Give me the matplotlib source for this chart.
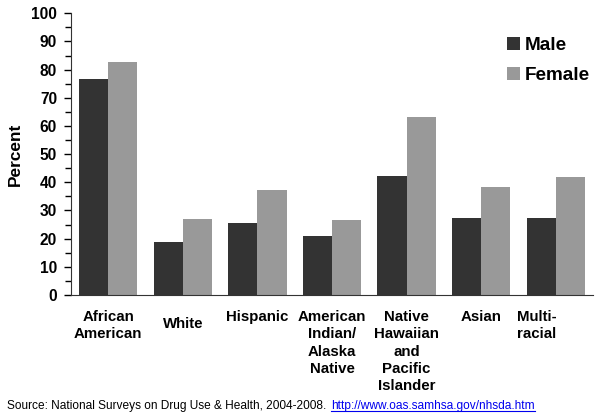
import matplotlib
matplotlib.use("Agg")
import matplotlib.pyplot as plt
import numpy as np
from matplotlib.lines import Line2D

categories = ["African\nAmerican", "White", "Hispanic", "American\nIndian/\nAlaska\nNative",
              "Native\nHawaiian\nand\nPacific\nIslander", "Asian", "Multi-\nracial"]
male = [76.8, 18.8, 25.7, 20.8, 42.4, 27.3, 27.5]
female = [82.6, 26.9, 37.1, 26.7, 63.3, 38.5, 41.8]
series_names = ["Male", "Female"]
yticks = list(range(0, 101, 10))

# label placement tweaks (style only)
label_dx = [0, 0, 0, 0, 0, 0, -0.25]
label_dy_px = [0, 7, 0, 0, 0, 0, 0]

plt.rcParams['font.family'] = ['Liberation Sans', 'DejaVu Sans']

fig = plt.figure(figsize=(6.0, 4.16), dpi=100)
ax = fig.add_axes([71/600, 1-295/416, (593-71)/600, (295-13.3)/416])

x = np.arange(len(categories))
w = 0.39
ax.bar(x - w/2, male, w, color="#333333", label=series_names[0])
ax.bar(x + w/2, female, w, color="#999999", label=series_names[1])

ax.set_xlim(-0.5, len(categories) - 0.5)
ax.set_ylim(0, 100)
ax.set_yticks(yticks)
ax.set_yticklabels([str(t) for t in yticks], fontsize=11.2, fontweight="bold")
ax.set_yticks(np.arange(5, 100, 10), minor=True)
ax.tick_params(axis="y", which="major", length=5, width=1, direction="out", pad=5)
ax.tick_params(axis="y", which="minor", length=4, width=1, direction="out")
ax.set_xticks([])
for s in ["top", "right"]:
    ax.spines[s].set_visible(False)
ax.spines["left"].set_color("#333333")
ax.spines["bottom"].set_color("#333333")

ax.set_ylabel("Percent", fontsize=12.4, fontweight="bold", labelpad=6)

trans = matplotlib.transforms.blended_transform_factory(ax.transData, fig.transFigure)
for xi, dx, dy, lab in zip(x, label_dx, label_dy_px, categories):
    ax.text(xi + dx, 1 - (310 + dy) / 416, lab, transform=trans, ha="center", va="top",
            fontsize=10.8, fontweight="bold", linespacing=1.3)

leg = fig.legend(loc="upper right", bbox_to_anchor=(590/600, 1 - 37/416), frameon=False,
                 prop={"size": 13.6, "weight": "bold"}, handlelength=0.7, handleheight=0.7,
                 handletextpad=0.27, labelspacing=0.66, borderpad=0, borderaxespad=0)

src = fig.text(7/600, 1 - 406/416, "Source: National Surveys on Drug Use & Health, 2004-2008.",
               fontsize=8.6, va="center", ha="left")
link = fig.text(331/600, 1 - 406/416, "http://www.oas.samhsa.gov/nhsda.htm",
                fontsize=8.6, va="center", ha="left", color="#0000ee")
fig.canvas.draw()
bb = link.get_window_extent().transformed(fig.transFigure.inverted())
fig.add_artist(Line2D([bb.x0, bb.x1], [bb.y0 + 0.003, bb.y0 + 0.003], color="#0000ee",
                      lw=0.8, transform=fig.transFigure))

fig.savefig("out.png", dpi=100)
